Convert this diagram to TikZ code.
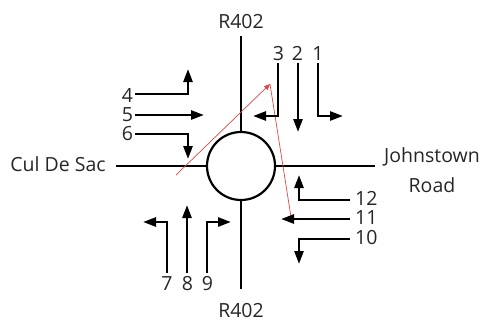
\documentclass[tikz,border=0pt]{standalone}
\usepackage{fontspec}
\setmainfont{Open Sans}
\usetikzlibrary{arrows.meta}
\definecolor{annot}{RGB}{225,70,70}
\begin{document}
\begin{tikzpicture}[x=1pt,y=-1pt,
  road/.style={line width=1.8pt, draw=black},
  mv/.style={line width=2.6pt, draw=black, -{Triangle[length=13pt,width=9pt]}},
  lab/.style={font=\fontsize{19.5}{22}\selectfont, inner sep=0pt, text=black!85},
  redl/.style={draw=annot, line width=0.7pt}]
\useasboundingbox (0,0) rectangle (484,322);
% roundabout
\node[draw, circle, minimum size=68pt, line width=2.2pt, inner sep=0pt] (rb) at (241,166) {};
\coordinate (nEnd) at (241,36);
\coordinate (sEnd) at (241,289);
\coordinate (wEnd) at (116,166);
\coordinate (eEnd) at (375,166);
\draw[road] (rb.north) -- (nEnd);
\draw[road] (rb.south) -- (sEnd);
\draw[road] (rb.west) -- (wEnd);
\draw[road] (rb.east) -- (eEnd);
% road labels
\node[lab, anchor=base] (rN) at (241,28) {R402};
\node[lab, anchor=base] (rS) at (241,317) {R402};
\node[lab, anchor=base] (rW) at (58,171) {Cul De Sac};
\node[lab, anchor=base] (rE1) at (432,162) {Johnstown};
\node[lab, anchor=base] (rE2) at (432,192) {Road};
% red annotation
\coordinate (ra) at (176,175);
\coordinate (rb2) at (270,84);
\coordinate (rc) at (291,217);
\draw[redl, -{Triangle[length=6pt,width=5pt]}] (ra) -- (rb2);
\draw[redl] (rb2) -- (rc);
% west approach 4 5 6
\node[lab, anchor=base] (l4) at (127.5,102) {4};
\node[lab, anchor=base] (l5) at (127.5,121) {5};
\node[lab, anchor=base] (l6) at (127.5,140) {6};
\coordinate (s4) at (135,94); \coordinate (c4) at (188,94); \coordinate (t4) at (188,69);
\coordinate (s5) at (135,115); \coordinate (t5) at (204,115);
\coordinate (s6) at (135,134); \coordinate (c6) at (188,134); \coordinate (t6) at (188,159);
\draw[mv] (s4) -- (c4) -- (t4);
\draw[mv] (s5) -- (t5);
\draw[mv] (s6) -- (c6) -- (t6);
% north approach 3 2 1
\node[lab, anchor=base] (l3) at (278.5,60) {3};
\node[lab, anchor=base] (l2) at (297.5,60) {2};
\node[lab, anchor=base] (l1) at (318,60) {1};
\coordinate (s3) at (278,63); \coordinate (c3) at (278,116); \coordinate (t3) at (253,116);
\coordinate (s2) at (298,63); \coordinate (t2) at (298,132);
\coordinate (s1) at (318,63); \coordinate (c1) at (318,116); \coordinate (t1) at (343,116);
\draw[mv] (s3) -- (c3) -- (t3);
\draw[mv] (s2) -- (t2);
\draw[mv] (s1) -- (c1) -- (t1);
% south approach 7 8 9
\node[lab, anchor=base] (l7) at (167,290) {7};
\node[lab, anchor=base] (l8) at (187.5,290) {8};
\node[lab, anchor=base] (l9) at (207.5,290) {9};
\coordinate (s7) at (167,273); \coordinate (c7) at (167,222); \coordinate (t7) at (143,222);
\coordinate (s8) at (187,273); \coordinate (t8) at (187,205);
\coordinate (s9) at (207,273); \coordinate (c9) at (207,222); \coordinate (t9) at (231,222);
\draw[mv] (s7) -- (c7) -- (t7);
\draw[mv] (s8) -- (t8);
\draw[mv] (s9) -- (c9) -- (t9);
% east approach 12 11 10
\node[lab, anchor=base west] (l12) at (355,205) {12};
\node[lab, anchor=base west] (l11) at (355,224) {11};
\node[lab, anchor=base west] (l10) at (355,244) {10};
\coordinate (s12) at (350,200); \coordinate (c12) at (299,200); \coordinate (t12) at (299,175);
\coordinate (s11) at (350,219); \coordinate (t11) at (281,219);
\coordinate (s10) at (350,239); \coordinate (c10) at (299,239); \coordinate (t10) at (299,264);
\draw[mv] (s12) -- (c12) -- (t12);
\draw[mv] (s11) -- (t11);
\draw[mv] (s10) -- (c10) -- (t10);
\end{tikzpicture}
\end{document}
